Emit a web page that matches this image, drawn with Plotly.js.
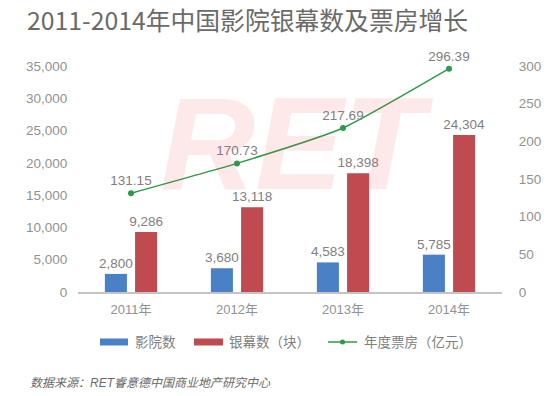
<!DOCTYPE html>
<html>
<head>
<meta charset="utf-8">
<script src="https://cdn.plot.ly/plotly-3.0.1.min.js"></script>
<style>html,body{margin:0;padding:0;background:#fff;}#chart{width:550px;height:396px;}</style>
</head>
<body>
<div id="chart"></div>
<script>
var years = ['2011年', '2012年', '2013年', '2014年'];
var cinemas = [2800, 3680, 4583, 5785];
var screens = [9286, 13118, 18398, 24304];
var boxOffice = [131.15, 170.73, 217.69, 296.39];
var seriesNames = ['影院数', '银幕数（块）', '年度票房（亿元）'];
var titleText = '2011-2014年中国影院银幕数及票房增长';
var sourceText = '数据来源：RET睿意德中国商业地产研究中心';

var BLUE = '#4a80c5', RED = '#bf4b51', GREEN = '#2c9a48';
var L = 78, R = 502, T = 66, B = 292;
function px(x) { return (x - L) / (R - L); }
function py(y) { return (B - y) / (B - T); }
var cjk = '"Liberation Sans", "Noto Sans CJK SC", sans-serif';
var LBL = '#808080', TICK = '#929292';

var data = [
  {type: 'bar', x: years, y: cinemas, name: seriesNames[0], marker: {color: BLUE},
   texttemplate: '%{y:,}', textposition: 'outside', constraintext: 'none', cliponaxis: false,
   textfont: {color: LBL, size: 13.5, family: cjk}, hoverinfo: 'none'},
  {type: 'bar', x: years, y: screens, name: seriesNames[1], marker: {color: RED},
   texttemplate: '%{y:,}', textposition: 'outside', constraintext: 'none', cliponaxis: false,
   textfont: {color: LBL, size: 13.5, family: cjk}, hoverinfo: 'none'},
  {type: 'scatter', x: years, y: boxOffice, name: seriesNames[2], yaxis: 'y2',
   mode: 'lines+markers+text', line: {color: GREEN, width: 1.5, shape: 'spline', smoothing: 0.5},
   marker: {color: GREEN, size: 6}, texttemplate: '%{y:.2f}', textposition: 'top center',
   cliponaxis: false, textfont: {color: LBL, size: 13.5, family: cjk}, hoverinfo: 'none'}
];

var legendY = 342;
var layout = {
  width: 550, height: 396,
  margin: {l: L, r: 550 - R, t: T, b: 396 - B, pad: 0},
  paper_bgcolor: '#fff', plot_bgcolor: 'rgba(0,0,0,0)',
  showlegend: false,
  barmode: 'group', bargap: 0.43, bargroupgap: 0.27,
  font: {family: cjk, color: TICK},
  title: {text: titleText, xref: 'container', yref: 'container', x: 27 / 550, xanchor: 'left',
          y: 1 - 21 / 396, yanchor: 'middle',
          font: {family: '"Noto Sans CJK SC", sans-serif', size: 24.8, color: '#6a6a6a'}},
  xaxis: {type: 'category', showline: true, linecolor: '#c4c4c4', linewidth: 1.5,
          showgrid: false, zeroline: false, ticks: 'outside', ticklen: 5, tickcolor: 'rgba(0,0,0,0)',
          tickfont: {size: 13, color: TICK, family: cjk}, fixedrange: true},
  yaxis: {range: [0, 35000], dtick: 5000, tickformat: ',', showgrid: false, zeroline: false,
          showline: false, ticks: 'outside', ticklen: 7, tickcolor: 'rgba(0,0,0,0)',
          tickfont: {size: 13.5, color: TICK, family: cjk}},
  yaxis2: {range: [0, 300], dtick: 50, overlaying: 'y', side: 'right', showgrid: false,
           zeroline: false, showline: false, ticks: 'outside', ticklen: 13, tickcolor: 'rgba(0,0,0,0)',
           tickfont: {size: 13.5, color: TICK, family: cjk}},
  shapes: [
    {type: 'rect', xref: 'paper', yref: 'paper', x0: px(100), x1: px(128), y0: py(legendY + 3.5), y1: py(legendY - 3.5),
     fillcolor: BLUE, line: {width: 0}},
    {type: 'rect', xref: 'paper', yref: 'paper', x0: px(194), x1: px(223), y0: py(legendY + 3.5), y1: py(legendY - 3.5),
     fillcolor: RED, line: {width: 0}},
    {type: 'line', xref: 'paper', yref: 'paper', x0: px(328), x1: px(357), y0: py(legendY), y1: py(legendY),
     line: {color: GREEN, width: 1.5}},
    {type: 'circle', xref: 'paper', yref: 'paper', x0: px(340), x1: px(345), y0: py(legendY + 2.5), y1: py(legendY - 2.5),
     fillcolor: GREEN, line: {width: 0}}
  ],
  annotations: [
    {text: 'RET', xref: 'paper', yref: 'paper', x: px(296), y: py(143), xanchor: 'center', yanchor: 'middle',
     showarrow: false, font: {family: '"Liberation Sans", Arial, sans-serif', size: 132, weight: 'bold', style: 'italic',
     color: 'rgba(242,80,93,0.13)'}},
    {text: seriesNames[0], xref: 'paper', yref: 'paper', x: px(133), y: py(legendY), xanchor: 'left', yanchor: 'middle',
     showarrow: false, font: {size: 13.5, color: LBL, family: cjk}},
    {text: seriesNames[1], xref: 'paper', yref: 'paper', x: px(227), y: py(legendY), xanchor: 'left', yanchor: 'middle',
     showarrow: false, font: {size: 13.5, color: LBL, family: cjk}},
    {text: seriesNames[2], xref: 'paper', yref: 'paper', x: px(362), y: py(legendY), xanchor: 'left', yanchor: 'middle',
     showarrow: false, font: {size: 13.5, color: LBL, family: cjk}},
    {text: sourceText, xref: 'paper', yref: 'paper', x: px(28), y: py(383), xanchor: 'left', yanchor: 'middle',
     showarrow: false, font: {size: 12, color: '#6a6a6a', family: cjk, style: 'italic'}}
  ]
};

Plotly.newPlot('chart', data, layout, {displayModeBar: false, staticPlot: true});
</script>
</body>
</html>
